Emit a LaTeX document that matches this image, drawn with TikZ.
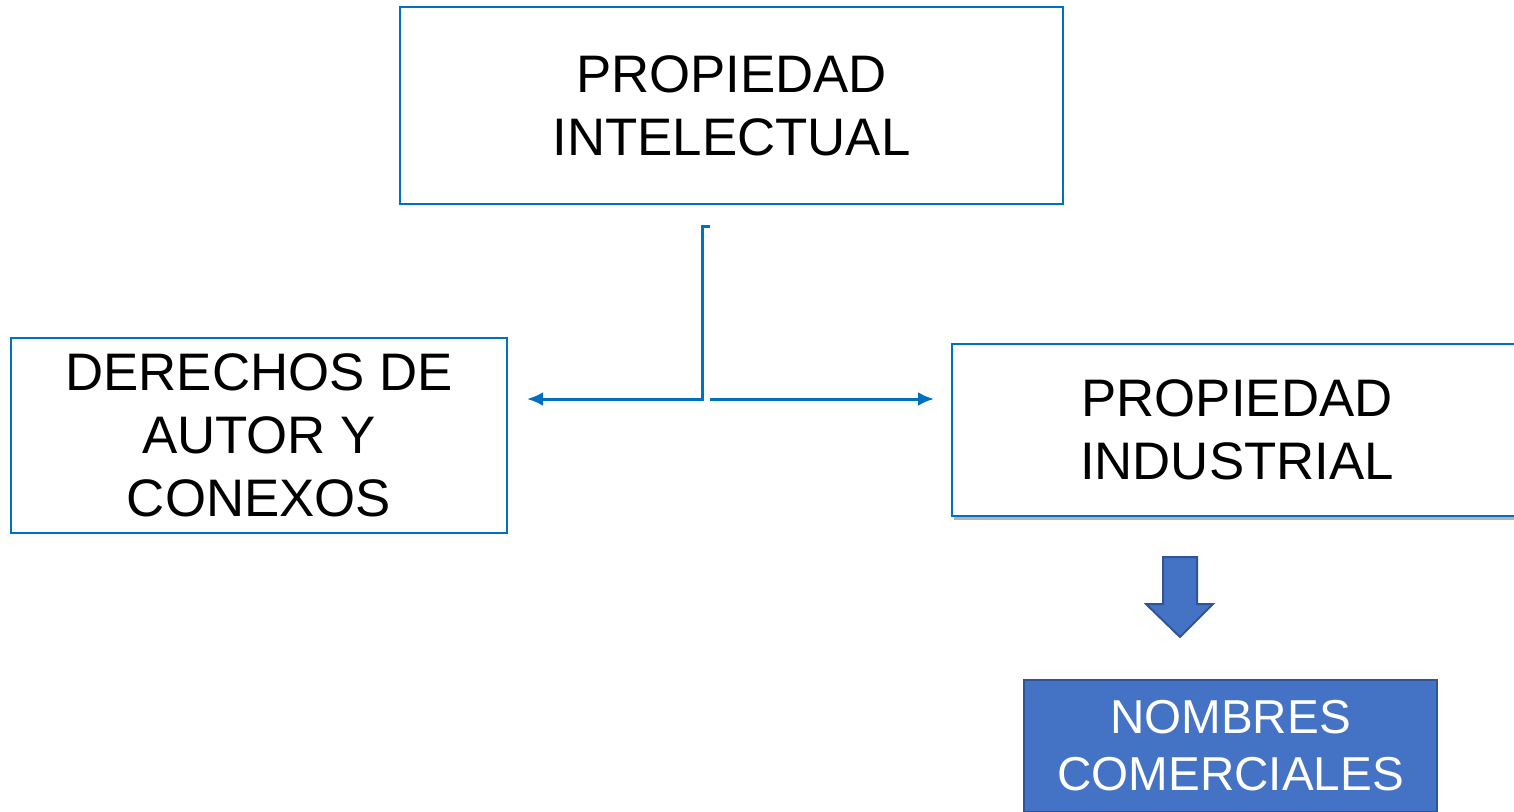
\documentclass[tikz,border=0pt]{standalone}
\usepackage{fontspec}
\setmainfont{Liberation Sans}
\usetikzlibrary{arrows.meta,shadows}
\definecolor{linkblue}{HTML}{0070C0}
\definecolor{fillblue}{HTML}{4472C4}
\definecolor{edgeblue}{HTML}{2F5597}
\tikzset{
  outlinebox/.style={draw=linkblue, line width=1.2pt, fill=white, align=center,
    inner sep=0pt, font=\fontsize{26.4}{31.5}\selectfont},
  solidbox/.style={draw=edgeblue, line width=1.2pt, fill=fillblue, text=white,
    align=center, inner sep=0pt, font=\fontsize{23.8}{28.5}\selectfont},
  link/.style={draw=linkblue, line width=1.5pt, -{Latex[length=8pt,width=7pt]}}
}
\begin{document}
\begin{tikzpicture}[x=0.5pt, y=-0.5pt]
  \useasboundingbox (0,0) rectangle (1514,811);
  \clip (0,0) rectangle (1514,811);
  \node[outlinebox, minimum width=331.5pt, minimum height=98.5pt] (intel) at (731.5,105.5)
     {PROPIEDAD\\INTELECTUAL};
  \node[outlinebox, minimum width=248pt, minimum height=97.5pt] (autor) at (259,435.5)
     {DERECHOS DE\\AUTOR Y\\CONEXOS};
  \node[outlinebox, minimum width=285pt, minimum height=86pt,
        drop shadow={shadow xshift=0.8pt, shadow yshift=-2.2pt, opacity=0.5,
                     fill=black!60}] (indus) at (1237,430)
     {PROPIEDAD\\INDUSTRIAL};
  \node[solidbox, minimum width=206.5pt, minimum height=66pt] (nombres) at (1230.5,746)
     {NOMBRES\\COMERCIALES};
  \coordinate (tick) at (710,226);
  \coordinate (bend) at (702,399);
  \coordinate (lend) at (527,399);
  \coordinate (rstart) at (710,399);
  \coordinate (rend) at (934,399);
  \draw[link] (tick) -- (tick -| bend) -- (bend) -- (lend);
  \draw[link] (rstart) -- (rend);
  \draw[fill=fillblue, draw=edgeblue, line width=1pt]
    (1163,557) -- (1197,557) -- (1197,604) -- (1213,604) -- (1180,637)
    -- (1146,604) -- (1163,604) -- cycle;
\end{tikzpicture}
\end{document}
